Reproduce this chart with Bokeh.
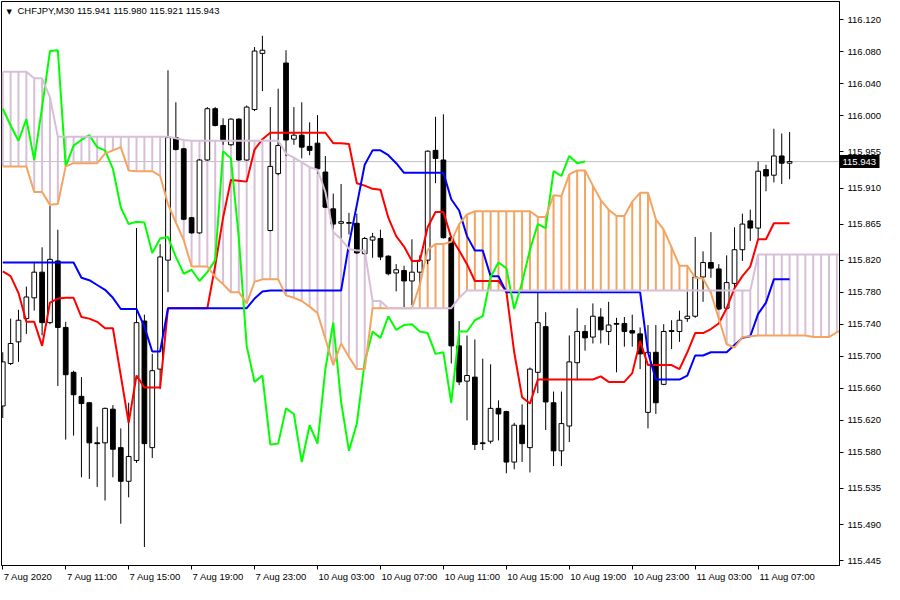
from bokeh.plotting import figure
from bokeh.models import FixedTicker, Label, Span, NumeralTickFormatter, LinearAxis
from bokeh.embed import file_html
from bokeh.resources import INLINE

symbol = "CHFJPY,M30"
header_values = "115.941 115.980 115.921 115.943"
last_price = 115.943

opens = [115.638, 115.691, 115.718, 115.747, 115.773, 115.805, 115.742, 115.819, 115.736, 115.680,
         115.650, 115.642, 115.592, 115.592, 115.634, 115.586, 115.544, 115.570, 115.744, 115.586,
         115.684, 115.820, 115.973, 115.959, 115.873, 115.854, 115.945, 116.009, 115.988, 115.964,
         115.996, 115.945, 116.008, 116.078, 115.857, 115.928, 116.066, 115.971, 115.976, 115.962,
         115.966, 115.930, 115.884, 115.866, 115.866, 115.866, 115.828, 115.845, 115.847, 115.825,
         115.804, 115.807, 115.794, 115.805, 115.820, 115.957, 115.945, 115.848, 115.713, 115.669,
         115.674, 115.592, 115.594, 115.635, 115.631, 115.568, 115.614, 115.586, 115.680, 115.737,
         115.642, 115.582, 115.613, 115.692, 115.731, 115.724, 115.749, 115.731, 115.741, 115.741,
         115.732, 115.728, 115.630, 115.705, 115.665, 115.732, 115.731, 115.747, 115.750, 115.799,
         115.817, 115.809, 115.760, 115.791, 115.833, 115.869, 115.860, 115.933, 115.926, 115.950,
         115.941]
highs = [115.705, 115.747, 115.758, 115.787, 115.818, 115.836, 115.888, 115.858, 115.743, 115.682,
         115.674, 115.643, 115.612, 115.636, 115.639, 115.610, 115.642, 115.860, 115.752, 115.703,
         115.840, 116.057, 116.017, 115.960, 115.874, 115.946, 116.011, 116.011, 115.997, 115.997,
         115.997, 116.013, 116.086, 116.100, 116.011, 116.034, 116.082, 116.011, 116.017, 115.992,
         116.001, 115.950, 115.903, 115.915, 115.879, 115.878, 115.849, 115.854, 115.858, 115.826,
         115.815, 115.813, 115.846, 115.826, 115.957, 115.999, 116.002, 115.850, 115.744, 115.726,
         115.721, 115.697, 115.690, 115.645, 115.632, 115.617, 115.640, 115.686, 115.779, 115.755,
         115.656, 115.656, 115.726, 115.760, 115.739, 115.766, 115.760, 115.768, 115.748, 115.749,
         115.752, 115.736, 115.739, 115.739, 115.740, 115.745, 115.757, 115.781, 115.849, 115.831,
         115.855, 115.815, 115.826, 115.861, 115.878, 115.883, 115.943, 115.939, 115.984, 115.978,
         115.980]
lows = [115.623, 115.689, 115.693, 115.728, 115.757, 115.726, 115.740, 115.663, 115.596, 115.601,
        115.549, 115.547, 115.537, 115.520, 115.549, 115.491, 115.524, 115.567, 115.462, 115.573,
        115.659, 115.780, 115.957, 115.870, 115.853, 115.853, 115.944, 115.987, 115.964, 115.963,
        115.944, 115.944, 116.006, 116.031, 115.856, 115.926, 115.950, 115.964, 115.947, 115.951,
        115.928, 115.885, 115.858, 115.847, 115.852, 115.828, 115.827, 115.823, 115.820, 115.801,
        115.781, 115.761, 115.764, 115.789, 115.815, 115.916, 115.847, 115.691, 115.664, 115.620,
        115.583, 115.583, 115.591, 115.595, 115.554, 115.559, 115.568, 115.555, 115.654, 115.608,
        115.563, 115.563, 115.593, 115.670, 115.707, 115.716, 115.716, 115.714, 115.680, 115.712,
        115.712, 115.684, 115.610, 115.628, 115.664, 115.709, 115.718, 115.743, 115.748, 115.768,
        115.798, 115.758, 115.758, 115.785, 115.819, 115.844, 115.846, 115.906, 115.917, 115.915,
        115.921]
closes = [115.693, 115.716, 115.745, 115.774, 115.805, 115.742, 115.821, 115.736, 115.677, 115.652,
          115.641, 115.592, 115.591, 115.635, 115.584, 115.544, 115.575, 115.742, 115.591, 115.682,
          115.824, 115.973, 115.958, 115.871, 115.854, 115.945, 116.009, 115.988, 115.969, 115.996,
          115.945, 116.011, 116.081, 116.082, 115.937, 115.963, 115.970, 115.976, 115.961, 115.957,
          115.934, 115.886, 115.865, 115.868, 115.867, 115.829, 115.847, 115.849, 115.824, 115.803,
          115.808, 115.794, 115.805, 115.820, 115.956, 115.947, 115.848, 115.713, 115.668, 115.676,
          115.590, 115.591, 115.635, 115.628, 115.568, 115.614, 115.591, 115.684, 115.742, 115.643,
          115.582, 115.616, 115.693, 115.731, 115.723, 115.750, 115.733, 115.739, 115.740, 115.731,
          115.729, 115.703, 115.705, 115.642, 115.731, 115.731, 115.745, 115.750, 115.799, 115.817,
          115.810, 115.759, 115.792, 115.833, 115.865, 115.860, 115.931, 115.925, 115.950, 115.941,
          115.943]

tenkan = [115.806, 115.800, 115.779, 115.743, 115.743, 115.713, 115.767, 115.772, 115.773, 115.773,
          115.749, 115.747, 115.743, 115.735, 115.735, 115.676, 115.617, 115.676, 115.661, 115.661,
          115.661, 115.760, 115.760, 115.760, 115.760, 115.760, 115.760, 115.813, 115.873, 115.920,
          115.919, 115.918, 115.958, 115.971, 115.979, 115.979, 115.979, 115.979, 115.979, 115.979,
          115.979, 115.979, 115.966, 115.966, 115.965, 115.916, 115.913, 115.909, 115.908, 115.873,
          115.850, 115.837, 115.819, 115.819, 115.861, 115.880, 115.880, 115.848, 115.832, 115.815,
          115.794, 115.794, 115.794, 115.794, 115.781, 115.705, 115.649, 115.641, 115.671, 115.671,
          115.671, 115.671, 115.671, 115.671, 115.671, 115.671, 115.675, 115.668, 115.668, 115.668,
          115.679, 115.719, 115.689, 115.689, 115.689, 115.689, 115.684, 115.705, 115.729, 115.729,
          115.734, 115.741, 115.760, 115.785, 115.800, 115.812, 115.846, 115.846, 115.866, 115.866,
          115.866]
kijun = [115.817, 115.817, 115.817, 115.817, 115.817, 115.817, 115.817, 115.817, 115.817, 115.817,
         115.798, 115.795, 115.789, 115.783, 115.773, 115.759, 115.759, 115.759, 115.737, 115.706,
         115.706, 115.760, 115.760, 115.760, 115.760, 115.760, 115.760, 115.760, 115.760, 115.760,
         115.760, 115.760, 115.772, 115.781, 115.782, 115.782, 115.782, 115.782, 115.782, 115.782,
         115.782, 115.782, 115.782, 115.782, 115.840, 115.889, 115.939, 115.957, 115.957, 115.951,
         115.941, 115.929, 115.929, 115.929, 115.929, 115.929, 115.929, 115.896, 115.882, 115.850,
         115.832, 115.832, 115.800, 115.800, 115.780, 115.780, 115.780, 115.780, 115.780, 115.780,
         115.780, 115.780, 115.780, 115.780, 115.780, 115.780, 115.780, 115.780, 115.780, 115.780,
         115.780, 115.780, 115.705, 115.671, 115.671, 115.671, 115.671, 115.676, 115.701, 115.701,
         115.705, 115.705, 115.705, 115.714, 115.723, 115.725, 115.753, 115.767, 115.796, 115.796,
         115.796]
span_a = [115.937, 115.937, 115.937, 115.937, 115.905, 115.905, 115.889, 115.890, 115.937, 115.941,
          115.941, 115.941, 115.941, 115.953, 115.957, 115.961, 115.932, 115.931, 115.931, 115.931,
          115.925, 115.890, 115.867, 115.845, 115.812, 115.812, 115.812, 115.799, 115.790, 115.780,
          115.780, 115.766, 115.793, 115.796, 115.796, 115.796, 115.776, 115.773, 115.769, 115.762,
          115.754, 115.722, 115.689, 115.716, 115.699, 115.684, 115.684, 115.760, 115.760, 115.760,
          115.760, 115.760, 115.760, 115.789, 115.833, 115.840, 115.840, 115.843, 115.865, 115.877,
          115.881, 115.881, 115.881, 115.881, 115.881, 115.881, 115.881, 115.881, 115.874, 115.874,
          115.901, 115.900, 115.927, 115.932, 115.932, 115.913, 115.895, 115.883, 115.875, 115.875,
          115.893, 115.904, 115.904, 115.871, 115.858, 115.836, 115.813, 115.813, 115.798, 115.797,
          115.779, 115.747, 115.715, 115.711, 115.724, 115.725, 115.726, 115.726, 115.726, 115.726,
          115.726, 115.726, 115.726, 115.724, 115.724, 115.724, 115.730, 115.735]
span_b = [116.055, 116.055, 116.055, 116.055, 116.047, 116.047, 116.023, 115.974, 115.974, 115.974,
          115.974, 115.974, 115.974, 115.974, 115.974, 115.974, 115.974, 115.974, 115.974, 115.974,
          115.974, 115.974, 115.972, 115.970, 115.969, 115.969, 115.969, 115.969, 115.969, 115.969,
          115.969, 115.969, 115.969, 115.969, 115.969, 115.969, 115.953, 115.948, 115.942, 115.936,
          115.933, 115.905, 115.855, 115.846, 115.834, 115.832, 115.832, 115.769, 115.769, 115.760,
          115.760, 115.760, 115.760, 115.760, 115.760, 115.760, 115.760, 115.760, 115.773, 115.782,
          115.782, 115.782, 115.782, 115.782, 115.782, 115.782, 115.782, 115.782, 115.782, 115.782,
          115.782, 115.782, 115.782, 115.782, 115.782, 115.782, 115.782, 115.782, 115.782, 115.782,
          115.782, 115.782, 115.782, 115.782, 115.782, 115.782, 115.782, 115.782, 115.782, 115.782,
          115.782, 115.782, 115.782, 115.782, 115.782, 115.782, 115.827, 115.827, 115.827, 115.827,
          115.827, 115.827, 115.827, 115.827, 115.827, 115.827, 115.827, 115.827]
chikou_shift = 26

price_ticks = [116.120, 116.080, 116.040, 116.000, 115.955, 115.910, 115.865, 115.820, 115.780,
               115.740, 115.700, 115.660, 115.620, 115.580, 115.535, 115.490, 115.445]
time_ticks = [0, 8, 16, 24, 32, 40, 48, 56, 64, 72, 80, 88, 96]
time_labels = ["7 Aug 2020", "7 Aug 11:00", "7 Aug 15:00", "7 Aug 19:00", "7 Aug 23:00",
               "10 Aug 03:00", "10 Aug 07:00", "10 Aug 11:00", "10 Aug 15:00", "10 Aug 19:00",
               "10 Aug 23:00", "11 Aug 03:00", "11 Aug 07:00"]

FONT = "Liberation Sans"
FS_PX = 9.5
FS = "%.1fpx" % FS_PX
W, H = 884, 584
x_start, x_end = -0.16, 106.34
y_start, y_end = 115.4389, 116.1428

p = figure(width=W, height=H, x_range=(x_start, x_end), y_range=(y_start, y_end),
           y_axis_location=None, output_backend="svg", toolbar_location=None,
           min_border_left=1, min_border_top=1, min_border_right=0, min_border_bottom=16,
           outline_line_color="black", outline_line_width=1,
           background_fill_color="white", border_fill_color="white")
p.grid.visible = False

# inner right axis: tick marks of the price scale (minor ticks) + current-price box (major tick)
box_len = 40
pax = LinearAxis(ticker=FixedTicker(ticks=[last_price], minor_ticks=price_ticks),
                 formatter=NumeralTickFormatter(format="0.000"))
pax.axis_line_color = "black"
pax.major_tick_line_color = "black"
pax.major_tick_line_width = 13
pax.major_tick_line_cap = "butt"
pax.major_tick_out = box_len
pax.major_tick_in = 0
pax.minor_tick_line_color = "black"
pax.minor_tick_out = 4
pax.minor_tick_in = 0
pax.major_label_standoff = 3 - box_len
pax.major_label_text_font = FONT
pax.major_label_text_font_size = FS
pax.major_label_text_color = "white"
p.add_layout(pax, "right")

# outer right axis: the price labels, pulled back next to the chart frame
yax = LinearAxis(ticker=FixedTicker(ticks=price_ticks),
                 formatter=NumeralTickFormatter(format="0.000"))
yax.axis_line_color = None
yax.major_tick_line_color = None
yax.minor_tick_line_color = None
yax.major_tick_out = 0
yax.major_tick_in = 0
yax.minor_tick_out = 0
yax.minor_tick_in = 0
yax.major_label_standoff = 6 - 38
yax.major_label_text_font = FONT
yax.major_label_text_font_size = FS
yax.major_label_text_color = "black"
p.add_layout(yax, "right")

# x axis: tick marks at the bar positions (minor ticks), labels starting at each tick (MT4 style)
char_w = {" ": 0.278, ":": 0.278, "A": 0.667, "u": 0.556, "g": 0.556}
frame_px = W - 1 - 44
px_per_bar = frame_px / (x_end - x_start)
label_pos = []
for t, lab in zip(time_ticks, time_labels):
    w = sum(char_w.get(ch, 0.556) for ch in lab) * FS_PX
    label_pos.append(round(t + (w / 2 + 1) / px_per_bar, 3))
xax = p.xaxis[0]
xax.ticker = FixedTicker(ticks=label_pos, minor_ticks=time_ticks)
xax.major_label_overrides = {pos: lab for pos, lab in zip(label_pos, time_labels)}
xax.major_tick_out = 0
xax.major_tick_in = 0
xax.minor_tick_out = 4
xax.minor_tick_in = 0
xax.minor_tick_line_color = "black"
xax.major_label_standoff = 1
xax.major_label_text_font = FONT
xax.major_label_text_font_size = FS
xax.major_label_text_color = "black"
xax.axis_line_color = "black"

# bid line
p.add_layout(Span(location=last_price, dimension="width", line_color="#C0C0C0",
                  line_width=1, level="underlay"))

# cloud hatch
hx = list(range(len(span_a)))
up = [i for i in hx if span_a[i] >= span_b[i]]
dn = [i for i in hx if span_a[i] < span_b[i]]
p.segment(x0=up, y0=[span_a[i] for i in up], x1=up, y1=[span_b[i] for i in up],
          line_color="#F4A460", line_width=2)
p.segment(x0=dn, y0=[span_a[i] for i in dn], x1=dn, y1=[span_b[i] for i in dn],
          line_color="#D8BFD8", line_width=2)

# candles
idx = list(range(len(closes)))
p.segment(x0=idx, y0=lows, x1=idx, y1=highs, line_color="black", line_width=1)
bull = [i for i in idx if closes[i] >= opens[i]]
bear = [i for i in idx if closes[i] < opens[i]]
p.vbar(x=bull, bottom=[opens[i] for i in bull], top=[closes[i] for i in bull], width=0.6,
       fill_color="white", line_color="black", line_width=1)
p.vbar(x=bear, bottom=[closes[i] for i in bear], top=[opens[i] for i in bear], width=0.6,
       fill_color="black", line_color="black", line_width=1)

# ichimoku lines
p.line(idx, tenkan, line_color="#FF0000", line_width=2)
p.line(idx, kijun, line_color="#0000FF", line_width=2)
chikou = closes[chikou_shift:]
p.line(list(range(len(chikou))), chikou, line_color="#00FF00", line_width=2)
p.line(hx, span_a, line_color="#F4A460", line_width=2)
p.line(hx, span_b, line_color="#D8BFD8", line_width=2)

# header
p.add_layout(Label(x=5, y=y_end, x_units="screen", y_units="data", y_offset=-6,
                   text="\u25BC", text_font="DejaVu Sans", text_font_size="7px",
                   text_baseline="top", text_color="black"))
p.add_layout(Label(x=16, y=y_end, x_units="screen", y_units="data", y_offset=-3,
                   text=symbol + "  " + header_values, text_font=FONT, text_font_size=FS,
                   text_baseline="top", text_color="black"))

open("out.html", "w").write(file_html(p, INLINE))
